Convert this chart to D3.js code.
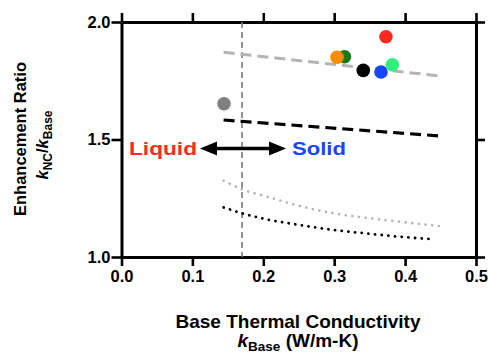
<!DOCTYPE html>
<html>
<head>
<meta charset="utf-8">
<script src="https://cdn.jsdelivr.net/npm/d3@7"></script>
<style>
  body { margin: 0; background: #fff; }
  svg text { font-family: "Liberation Sans", Arial, sans-serif; font-weight: bold; }
</style>
</head>
<body>
<svg id="chart" width="488" height="355"></svg>
<script>
// measured points: base conductivity vs enhancement ratio
const pointX = [0.373, 0.3145, 0.304, 0.341, 0.366, 0.382, 0.1446]
const pointY = [1.937, 1.852, 1.850, 1.794, 1.787, 1.818, 1.652]
const pointColors = ['#ff2a1f', '#167a16', '#ff8c00', '#000000', '#1846ff', '#2ef07a', '#808080']

// model curves
const upperDashedX = [0.144, 0.450]
const upperDashedY = [1.871, 1.770]
const lowerDashedX = [0.144, 0.450]
const lowerDashedY = [1.583, 1.515]
const greyDottedX = [0.144, 0.17, 0.205, 0.25, 0.299, 0.35, 0.393, 0.448]
const greyDottedY = [1.325, 1.288, 1.257, 1.218, 1.186, 1.165, 1.150, 1.132]
const blackDottedX = [0.144, 0.17, 0.205, 0.25, 0.299, 0.35, 0.393, 0.442]
const blackDottedY = [1.211, 1.186, 1.160, 1.137, 1.115, 1.099, 1.086, 1.075]

const boundaryX = 0.17
const xTicks = [0.0, 0.1, 0.2, 0.3, 0.4, 0.5]
const yTicks = [1.0, 1.5, 2.0]

const svg = d3.select('#chart')

const x = d3.scaleLinear().domain([0, 0.5]).range([121.5, 476])
const y = d3.scaleLinear().domain([1, 2]).range([257, 22])

const zip = (xs, ys) => xs.map((v, i) => [v, ys[i]])
const line = d3.line().x(d => x(d[0])).y(d => y(d[1])).curve(d3.curveMonotoneX)

// frame axes, ticks pointing outward on all four sides
const styleAxis = g => {
  g.select('.domain').attr('stroke-width', 3)
  g.selectAll('.tick line').attr('stroke-width', 2.6)
  g.selectAll('.tick text').attr('font-size', 16.5).attr('fill', '#000')
}
svg.append('g').attr('transform', `translate(0,${y(1)})`)
  .call(d3.axisBottom(x).tickValues(xTicks).tickFormat(d3.format('.1f')).tickSize(9).tickSizeOuter(0).tickPadding(4))
  .call(styleAxis)
svg.append('g').attr('transform', `translate(0,${y(2)})`)
  .call(d3.axisTop(x).tickValues(xTicks).tickFormat('').tickSize(9).tickSizeOuter(0))
  .call(styleAxis)
svg.append('g').attr('transform', `translate(${x(0)},0)`)
  .call(d3.axisLeft(y).tickValues(yTicks).tickFormat(d3.format('.1f')).tickSize(10).tickSizeOuter(0).tickPadding(1))
  .call(styleAxis)
svg.append('g').attr('transform', `translate(${x(0.5)},0)`)
  .call(d3.axisRight(y).tickValues(yTicks).tickFormat('').tickSize(9).tickSizeOuter(0))
  .call(styleAxis)

// liquid/solid boundary
svg.append('line')
  .attr('x1', x(boundaryX)).attr('x2', x(boundaryX))
  .attr('y1', y(2)).attr('y2', y(1))
  .attr('stroke', '#777').attr('stroke-width', 1.6).attr('stroke-dasharray', '6,4')

// model lines
svg.append('path').datum(zip(upperDashedX, upperDashedY))
  .attr('d', line).attr('fill', 'none').attr('stroke', '#b4b4b4')
  .attr('stroke-width', 3).attr('stroke-dasharray', '11,6')
svg.append('path').datum(zip(lowerDashedX, lowerDashedY))
  .attr('d', line).attr('fill', 'none').attr('stroke', '#000')
  .attr('stroke-width', 3.2).attr('stroke-dasharray', '11,6')
svg.append('path').datum(zip(greyDottedX, greyDottedY))
  .attr('d', line).attr('fill', 'none').attr('stroke', '#b4b4b4')
  .attr('stroke-width', 2.6).attr('stroke-dasharray', '0.1,6.6').attr('stroke-linecap', 'round')
svg.append('path').datum(zip(blackDottedX, blackDottedY))
  .attr('d', line).attr('fill', 'none').attr('stroke', '#000')
  .attr('stroke-width', 2.8).attr('stroke-dasharray', '0.1,6.6').attr('stroke-linecap', 'round')

// data points
svg.append('g').selectAll('circle')
  .data(pointX.map((v, i) => ({x: v, y: pointY[i], c: pointColors[i]})))
  .join('circle')
  .attr('cx', d => x(d.x)).attr('cy', d => y(d.y)).attr('r', 6.8)
  .attr('fill', d => d.c)

// Liquid <-> Solid annotation
svg.append('text').attr('x', 129).attr('y', 155).attr('font-size', 18.5)
  .attr('textLength', 68).attr('lengthAdjust', 'spacingAndGlyphs')
  .attr('fill', '#ff2a1f').text('Liquid')
svg.append('text').attr('x', 292).attr('y', 155).attr('font-size', 18.5)
  .attr('textLength', 54).attr('lengthAdjust', 'spacingAndGlyphs')
  .attr('fill', '#1846ff').text('Solid')
const ay = 148.5
svg.append('line').attr('x1', 212).attr('x2', 274).attr('y1', ay).attr('y2', ay)
  .attr('stroke', '#000').attr('stroke-width', 3.4)
svg.append('path').attr('d', `M200,${ay} L217,${ay - 7} L217,${ay + 7} Z`).attr('fill', '#000')
svg.append('path').attr('d', `M286,${ay} L269,${ay - 7} L269,${ay + 7} Z`).attr('fill', '#000')

// axis titles
const xt = svg.append('text').attr('text-anchor', 'middle').attr('font-size', 19)
xt.append('tspan').attr('x', 298).attr('y', 328).text('Base Thermal Conductivity')
const xt2 = xt.append('tspan').attr('x', 298).attr('y', 347)
xt2.append('tspan').attr('font-style', 'italic').text('k')
xt2.append('tspan').attr('font-size', 13.5).attr('dy', 4).text('Base')
xt2.append('tspan').attr('dy', -4).text(' (W/m-K)')

const yt = svg.append('text').attr('text-anchor', 'middle').attr('font-size', 16.5)
  .attr('transform', 'rotate(-90)')
yt.append('tspan').attr('x', -139).attr('y', 26).text('Enhancement Ratio')
const yt2 = yt.append('tspan').attr('x', -145).attr('y', 47.5)
yt2.append('tspan').attr('font-style', 'italic').text('k')
yt2.append('tspan').attr('font-size', 12).attr('dy', 4).text('NC')
yt2.append('tspan').attr('dy', -4).text('/')
yt2.append('tspan').attr('font-style', 'italic').text('k')
yt2.append('tspan').attr('font-size', 12).attr('dy', 4).text('Base')
</script>
</body>
</html>
